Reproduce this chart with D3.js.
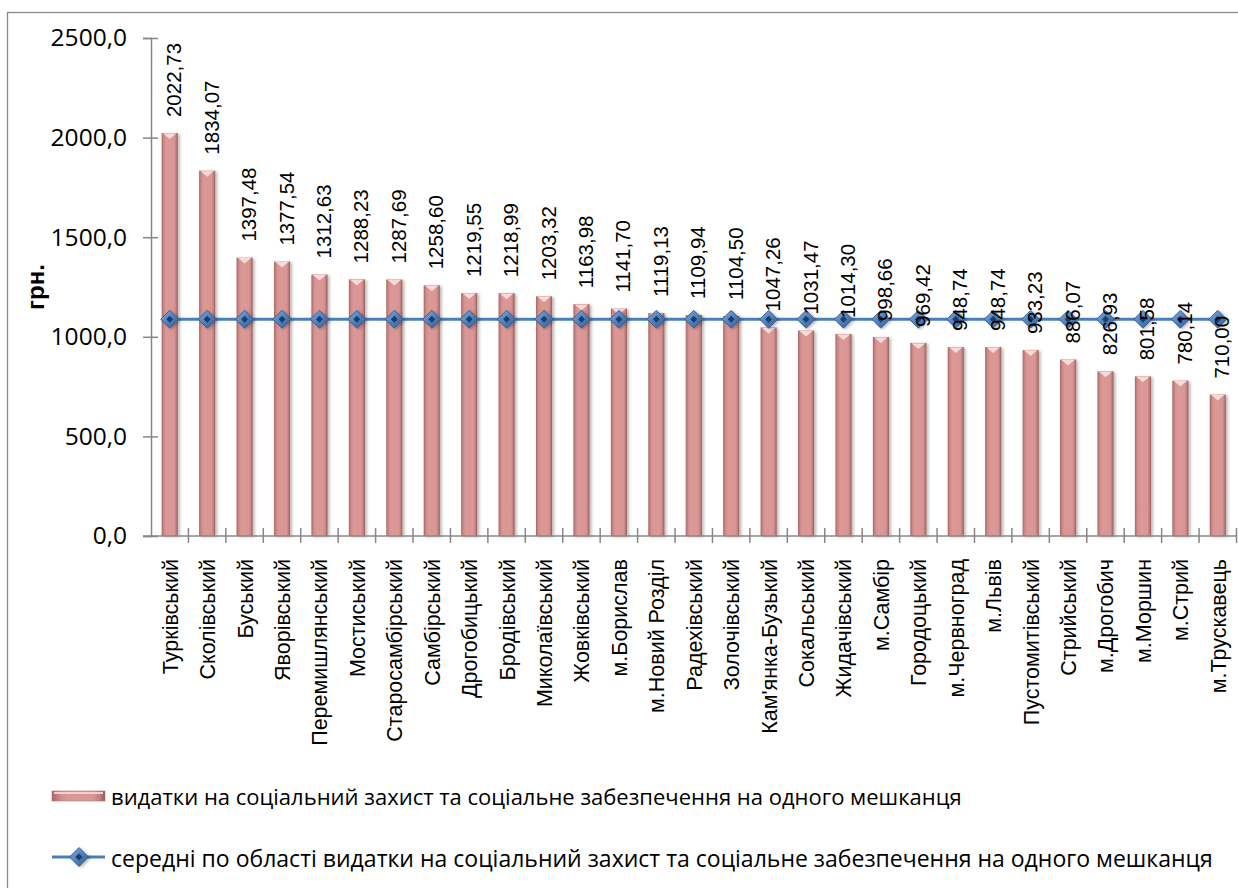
<!DOCTYPE html>
<html>
<head>
<meta charset="utf-8">
<script src="https://cdn.jsdelivr.net/npm/d3@7"></script>
<style>
  html, body { margin: 0; padding: 0; background: #fff; }
  svg { display: block; }
</style>
</head>
<body>
<svg id="chart" width="1238" height="888"></svg>
<script>
// ---------- data ----------
const categories = [
  "Турківський", "Сколівський", "Буський", "Яворівський", "Перемишлянський",
  "Мостиський", "Старосамбірський", "Самбірський", "Дрогобицький", "Бродівський",
  "Миколаївський", "Жовківський", "м.Борислав", "м.Новий Розділ", "Радехівський",
  "Золочівський", "Кам'янка-Бузький", "Сокальський", "Жидачівський", "м.Самбір",
  "Городоцький", "м.Червноград", "м.Львів", "Пустомитівський", "Стрийський",
  "м.Дрогобич", "м.Моршин", "м.Стрий", "м.Трускавець"
];
const spending = [
  2022.73, 1834.07, 1397.48, 1377.54, 1312.63,
  1288.23, 1287.69, 1258.60, 1219.55, 1218.99,
  1203.32, 1163.98, 1141.70, 1119.13, 1109.94,
  1104.50, 1047.26, 1031.47, 1014.30, 998.66,
  969.42, 948.74, 948.74, 933.23, 886.07,
  826.93, 801.58, 780.14, 710.00
];
const regionAverage = [
  1088, 1088, 1088, 1088, 1088, 1088, 1088, 1088, 1088, 1088,
  1088, 1088, 1088, 1088, 1088, 1088, 1088, 1088, 1088, 1088,
  1088, 1088, 1088, 1088, 1088, 1088, 1088, 1088, 1088
];
const yTicks = [0, 500, 1000, 1500, 2000, 2500];
const yTitle = "грн.";
const legendLabels = [
  "видатки на соціальний захист та соціальне забезпечення на одного мешканця",
  "середні по області видатки на соціальний захист та соціальне забезпечення на одного мешканця"
];

// ---------- layout ----------
const svg = d3.select("#chart");
const plot = { left: 151, right: 1236.5, top: 38, bottom: 536 };
const axisColor = "#878787";
const lineColor = "#4a7ebb";

const comma = f => v => d3.format(f)(v).replace(".", ",");
const fmt2 = comma(".2f");
const fmt1 = comma(".1f");

const x = d3.scaleBand().domain(categories).range([plot.left, plot.right]).padding(0);
const y = d3.scaleLinear().domain([0, 2500]).range([plot.bottom, plot.top]);
const barW = x.bandwidth() * 0.43;

// outer frame
svg.append("rect")
  .attr("x", 7.5).attr("y", 12.5).attr("width", 1260).attr("height", 900)
  .attr("fill", "none").attr("stroke", "#8a8a8a").attr("stroke-width", 1.3);

// defs
const defs = svg.append("defs");
const bg = defs.append("linearGradient").attr("id", "barGrad").attr("x1", 0).attr("x2", 1).attr("y1", 0).attr("y2", 0);
[[0, "#a86664"], [0.16, "#d28d8b"], [0.3, "#da9897"], [0.78, "#d99694"], [0.9, "#c17e7c"], [1, "#955856"]]
  .forEach(([o, c]) => bg.append("stop").attr("offset", o).attr("stop-color", c));
const mg = defs.append("linearGradient").attr("id", "mkGrad").attr("x1", 0).attr("x2", 1).attr("y1", 0).attr("y2", 1);
[[0, "#7eaee3"], [0.5, "#4f81bd"], [1, "#2f5d94"]]
  .forEach(([o, c]) => mg.append("stop").attr("offset", o).attr("stop-color", c));
const sh = defs.append("filter").attr("id", "shadow").attr("x", "-50%").attr("y", "-10%").attr("width", "200%").attr("height", "130%");
sh.append("feDropShadow").attr("dx", 2).attr("dy", 1).attr("stdDeviation", 1.5).attr("flood-color", "#000").attr("flood-opacity", 0.28);

// bars
const bars = svg.append("g");
categories.forEach((c, i) => {
  const cx = x(c) + x.bandwidth() / 2;
  const top = y(spending[i]);
  bars.append("rect")
    .attr("x", cx - barW / 2).attr("y", top)
    .attr("width", barW).attr("height", y(0) - top)
    .attr("fill", "url(#barGrad)").attr("filter", "url(#shadow)");
  bars.append("path")
    .attr("d", `M${cx - barW / 2 + 1.5},${top + 0.5} L${cx + barW / 2 - 1.5},${top + 0.5} L${cx},${top + 6} Z`)
    .attr("fill", "#f7d9d8");
});

// axes
const yAxis = svg.append("g").attr("transform", `translate(${plot.left},0)`)
  .call(d3.axisLeft(y).tickValues(yTicks).tickSize(8).tickPadding(16).tickFormat(fmt1));
yAxis.select(".domain").attr("stroke", axisColor).attr("stroke-width", 1.5);
yAxis.selectAll(".tick line").attr("stroke", axisColor).attr("stroke-width", 1.5).attr("x2", -8).attr("x1", 7);
yAxis.selectAll(".tick text").attr("font-family", "'Open Sans', sans-serif").attr("font-size", 24.5).attr("fill", "#000");

const xAxis = svg.append("g");
xAxis.append("line")
  .attr("x1", plot.left - 8).attr("x2", plot.right)
  .attr("y1", y(0)).attr("y2", y(0))
  .attr("stroke", axisColor).attr("stroke-width", 1.5);
categories.forEach((c, i) => {
  const bx = x(c) + x.bandwidth();
  xAxis.append("line")
    .attr("x1", bx).attr("x2", bx).attr("y1", y(0) - 8).attr("y2", y(0) + 7)
    .attr("stroke", axisColor).attr("stroke-width", 1.5);
});

// category labels
svg.append("g").selectAll("text").data(categories).join("text")
  .attr("transform", d => `translate(${x(d) + x.bandwidth() / 2 + 1},${y(0) + 23}) rotate(-90)`)
  .attr("text-anchor", "end").attr("dominant-baseline", "central")
  .attr("font-family", "'Liberation Sans', Arial, sans-serif").attr("font-size", 21.5)
  .text(d => d);

// line series
const line = d3.line().x((d, i) => x(categories[i]) + x.bandwidth() / 2).y(d => y(d));
svg.append("path").datum(regionAverage)
  .attr("d", line).attr("fill", "none").attr("stroke", lineColor).attr("stroke-width", 3.2);

function diamond(g, cx, cy, r) {
  g.append("path")
    .attr("d", `M${cx},${cy - r} L${cx + r},${cy} L${cx},${cy + r} L${cx - r},${cy} Z`)
    .attr("fill", "url(#mkGrad)").attr("stroke", "#2c5282").attr("stroke-width", 0.8)
    .attr("filter", "url(#shadow)");
  const r2 = r * 0.38;
  g.append("path")
    .attr("d", `M${cx},${cy - r2} L${cx + r2},${cy} L${cx},${cy + r2} L${cx - r2},${cy} Z`)
    .attr("fill", "#1d3c66");
}
const markers = svg.append("g");
regionAverage.forEach((v, i) => diamond(markers, x(categories[i]) + x.bandwidth() / 2, y(v), 9));

// data labels
svg.append("g").selectAll("text").data(spending).join("text")
  .attr("transform", (d, i) => `translate(${x(categories[i]) + x.bandwidth() / 2 + 4},${y(d) - 16}) rotate(-90)`)
  .attr("text-anchor", "start").attr("dominant-baseline", "central")
  .attr("font-family", "'Liberation Sans', Arial, sans-serif").attr("font-size", 20.5)
  .text(d => fmt2(d));

// y title
svg.append("text")
  .attr("transform", `translate(35,${(plot.top + plot.bottom) / 2}) rotate(-90)`)
  .attr("text-anchor", "middle").attr("dominant-baseline", "central")
  .attr("font-family", "'Liberation Sans', Arial, sans-serif").attr("font-weight", "bold").attr("font-size", 24)
  .text(yTitle);

// legend
const lg = svg.append("g");
const lgFont = "'Open Sans', sans-serif";
// item 1
lg.append("rect").attr("x", 52).attr("y", 791).attr("width", 53).attr("height", 10)
  .attr("fill", "url(#barGrad)").attr("stroke", "#b5726f").attr("stroke-width", 0.6);
lg.append("rect").attr("x", 54).attr("y", 792).attr("width", 49).attr("height", 2).attr("fill", "#f3cfce");
const t1 = lg.append("text").attr("x", 111).attr("y", 796).attr("dominant-baseline", "central")
  .attr("font-family", lgFont).attr("font-size", 20).text(legendLabels[0]);
// item 2
lg.append("line").attr("x1", 52).attr("x2", 105).attr("y1", 857).attr("y2", 857)
  .attr("stroke", lineColor).attr("stroke-width", 3.2);
diamond(lg, 79, 857, 9.5);
const t2 = lg.append("text").attr("x", 111).attr("y", 858).attr("dominant-baseline", "central")
  .attr("font-family", lgFont).attr("font-size", 20).text(legendLabels[1]);
// fit legend font sizes to the reference text widths
t1.attr("font-size", 20 * 851 / t1.node().getComputedTextLength());
t2.attr("font-size", 20 * 1102 / t2.node().getComputedTextLength());
</script>
</body>
</html>
